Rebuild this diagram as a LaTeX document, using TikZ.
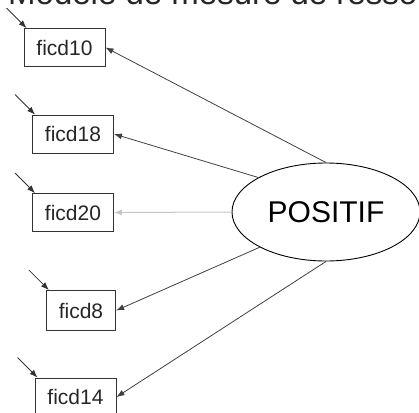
\documentclass[tikz,border=0pt]{standalone}
\usepackage{fontspec}
\setmainfont{Liberation Sans}
\usetikzlibrary{arrows.meta,shapes.geometric}

\tikzset{
  obs/.style={draw=black!80, line width=0.9pt, inner xsep=12.5pt, inner ysep=0pt,
    minimum height=38pt, font=\fontsize{21}{25}\selectfont, text=black!85},
  lat/.style={draw=black, line width=0.9pt, ellipse, inner sep=0pt,
    minimum width=188pt, minimum height=98pt, font=\fontsize{30}{36}\selectfont},
  load/.style={draw=black!75, line width=0.8pt, -{Latex[length=8pt,width=6pt]}},
  erra/.style={draw=black!80, line width=0.8pt, -{Latex[length=8pt,width=6pt]}},
}

\begin{document}
\begin{tikzpicture}[x=1pt, y=-1pt]
    \useasboundingbox (0,0) rectangle (419,412);

    % title, cut off by the page
    \node[anchor=base west, inner sep=0pt, font=\fontsize{33}{39}\selectfont, text=black!85]
        (title) at (8,4.5) {Modele de mesure de ressou};

    % latent variable
    \node[lat] (pos) at (326,212) {POSITIF};

    % indicators
    \node[obs] (f10) at (64.5,47.5) {ficd10};
    \node[obs] (f18) at (73,134) {ficd18};
    \node[obs] (f20) at (73,212.5) {ficd20};
    \node[obs, minimum height=40pt] (f8) at (81,310.5) {ficd8};
    \node[obs] (f14) at (75.5,397) {ficd14};

    % loadings
    \draw[load] (pos.north) -- (f10.east);
    \draw[load] (pos.153) -- (f18.east);
    \draw[load, draw=gray!45, line width=1pt] (pos.west) -- (f20.east);
    \draw[load] (pos.208) -- (f8.east);
    \draw[load] (pos.south) -- (f14.east);

    % error terms
    \foreach \b in {f10,f18,f20,f8,f14}
        \draw[erra] ([shift={(-17,-20)}]\b.north west) -- ([xshift=3pt]\b.north west);

\end{tikzpicture}
\end{document}
